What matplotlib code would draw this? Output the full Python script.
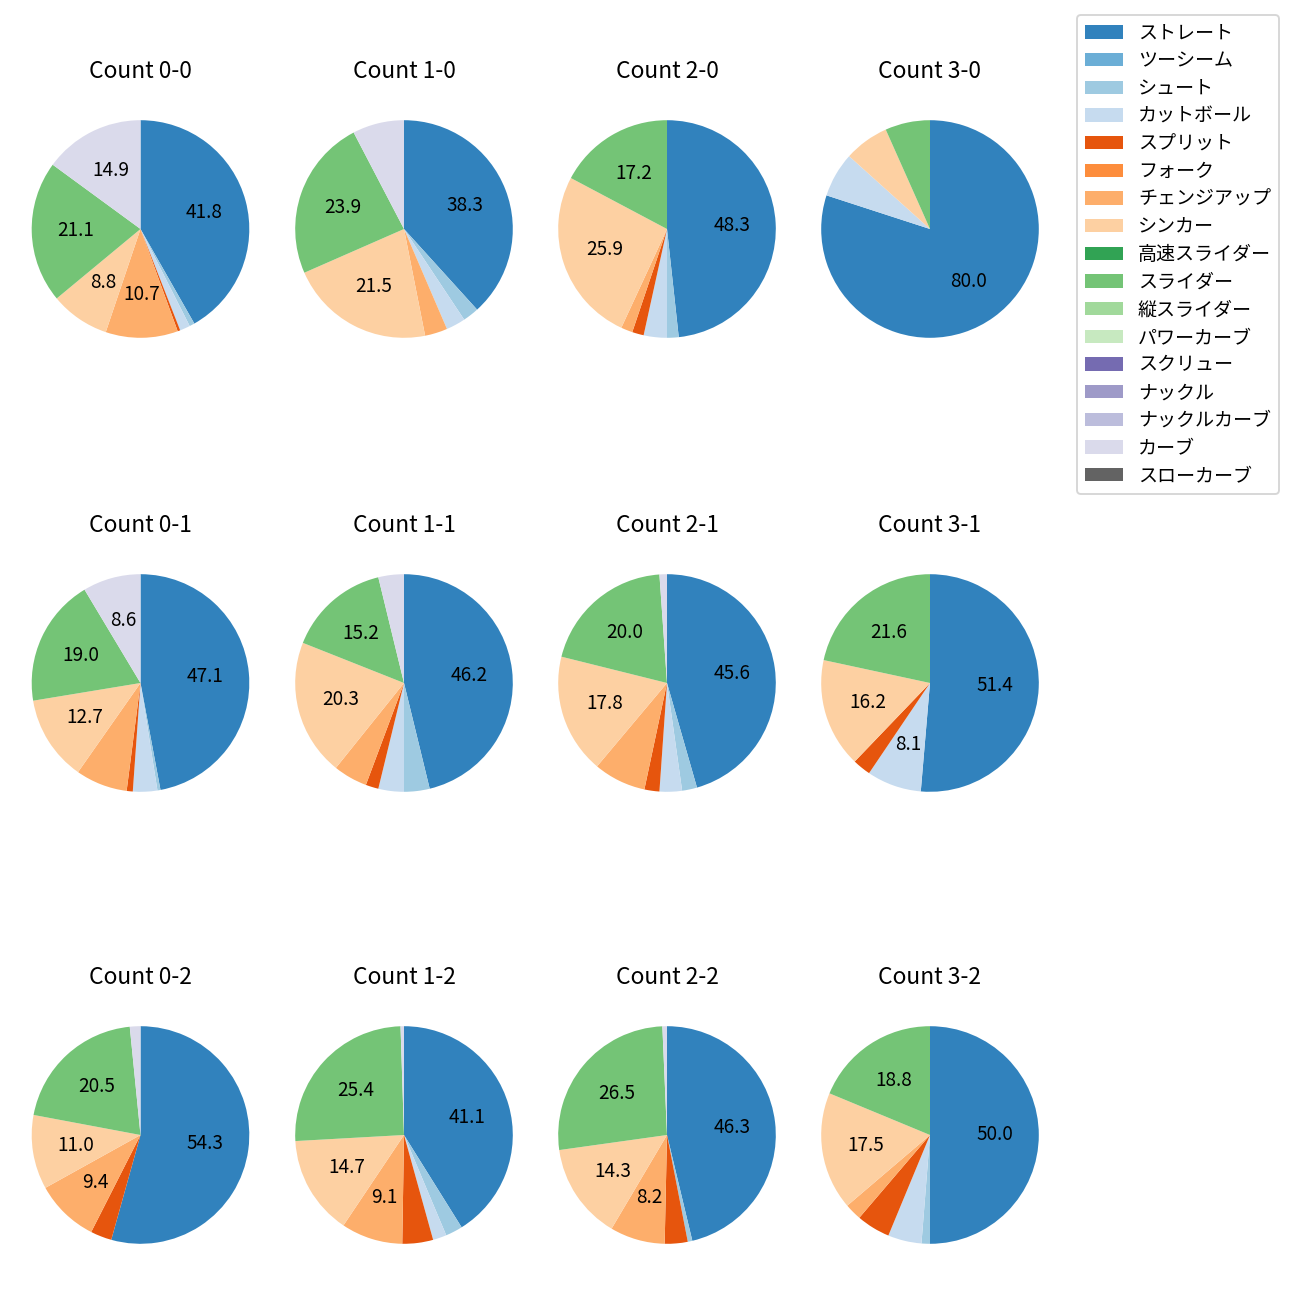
import matplotlib
matplotlib.use("Agg")
import matplotlib.pyplot as plt
from matplotlib.patches import Patch

plt.rcParams['font.family'] = ['Noto Sans CJK JP', 'DejaVu Sans']

pitch_types = ['ストレート', 'ツーシーム', 'シュート', 'カットボール', 'スプリット', 'フォーク',
               'チェンジアップ', 'シンカー', '高速スライダー', 'スライダー', '縦スライダー',
               'パワーカーブ', 'スクリュー', 'ナックル', 'ナックルカーブ', 'カーブ', 'スローカーブ']

# pitch counts per ball-strike count, same order as pitch_types
c00 = [109, 0, 2, 4, 1, 0, 28, 23, 0, 55, 0, 0, 0, 0, 0, 39, 0]
c10 = [80, 0, 5, 6, 0, 0, 7, 45, 0, 50, 0, 0, 0, 0, 0, 16, 0]
c20 = [28, 0, 1, 2, 1, 0, 1, 15, 0, 10, 0, 0, 0, 0, 0, 0, 0]
c30 = [12, 0, 0, 1, 0, 0, 0, 1, 0, 1, 0, 0, 0, 0, 0, 0, 0]
c01 = [104, 0, 1, 8, 2, 0, 17, 28, 0, 42, 0, 0, 0, 0, 0, 19, 0]
c11 = [73, 0, 6, 6, 3, 0, 8, 32, 0, 24, 0, 0, 0, 0, 0, 6, 0]
c21 = [41, 0, 2, 3, 2, 0, 7, 16, 0, 18, 0, 0, 0, 0, 0, 1, 0]
c31 = [19, 0, 0, 3, 1, 0, 0, 6, 0, 8, 0, 0, 0, 0, 0, 0, 0]
c02 = [69, 0, 0, 0, 4, 0, 12, 14, 0, 26, 0, 0, 0, 0, 0, 2, 0]
c12 = [81, 0, 5, 4, 9, 0, 18, 29, 0, 50, 0, 0, 0, 0, 0, 1, 0]
c22 = [68, 0, 1, 0, 5, 0, 12, 21, 0, 39, 0, 0, 0, 0, 0, 1, 0]
c32 = [40, 0, 1, 4, 4, 0, 2, 14, 0, 15, 0, 0, 0, 0, 0, 0, 0]

titles = ['Count 0-0', 'Count 1-0', 'Count 2-0', 'Count 3-0',
          'Count 0-1', 'Count 1-1', 'Count 2-1', 'Count 3-1',
          'Count 0-2', 'Count 1-2', 'Count 2-2', 'Count 3-2']
data = [c00, c10, c20, c30, c01, c11, c21, c31, c02, c12, c22, c32]

cmap = plt.get_cmap('tab20c')
colors = [cmap(i) for i in range(16)] + ['#636363']


def autopct(p):
    return '%.1f' % p if p >= 8 else ''


fig = plt.figure(figsize=(1300 / 137, 1300 / 137), dpi=137)

size = 272 / 1300
col_x = [140.5, 404, 667, 930]
row_y = [229, 683, 1135]

for i, (vals, t) in enumerate(zip(data, titles)):
    r, c = divmod(i, 4)
    left = (col_x[c] - 136) / 1300
    bottom = 1 - (row_y[r] + 136) / 1300
    ax = fig.add_axes([left, bottom, size, size])
    ax.pie(vals, colors=colors, startangle=90, counterclock=False,
           autopct=autopct, pctdistance=0.6)
    ax.set_title(t, pad=8)

handles = [Patch(facecolor=colors[i]) for i in range(len(pitch_types))]
fig.legend(handles, pitch_types, loc='upper left', bbox_to_anchor=(1077 / 1300, 1 - 15 / 1300),
           borderaxespad=0, labelspacing=0.35)

plt.savefig('out.png', dpi=137)
